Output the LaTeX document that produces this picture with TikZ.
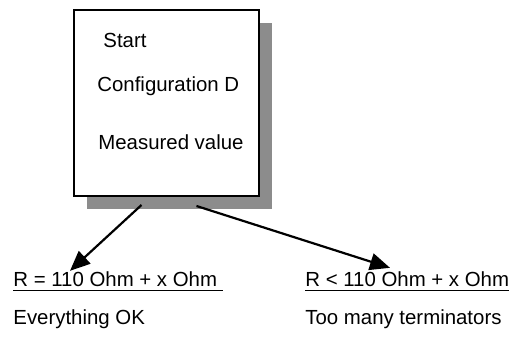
\documentclass[tikz,border=0pt]{standalone}
\usepackage{fontspec}
\setmainfont{Liberation Sans}
\usepackage{xcolor}
\definecolor{shadowgray}{HTML}{8c8c8c}
\usetikzlibrary{arrows.meta, calc}
\newcommand{\ohmline}[1]{\setbox0\hbox{#1}\rlap{\rule[-2.2pt]{\wd0}{0.8pt}}\box0}

\begin{document}
\begin{tikzpicture}[x=0.5pt, y=-0.5pt,
  box/.style={rectangle, draw=black, line width=1pt, fill=white,
    minimum width=92.5pt, minimum height=93pt, inner sep=0pt},
  shadowbox/.style={rectangle, fill=shadowgray,
    minimum width=92.5pt, minimum height=93pt, inner sep=0pt},
  txt/.style={anchor=base west, inner sep=0pt, font=\fontsize{10.2}{12}\selectfont},
  arr/.style={-{Triangle[length=10pt, width=8.5pt]}, line width=1.1pt}
]
\useasboundingbox (0,0) rectangle (511,347);
\node[shadowbox] (shadow) at (179.5, 116) {};
\node[box] (box) at (166.5, 103) {};
\node[txt] (start) at (103, 48)  {Start};
\node[txt] (conf)  at (97, 92)   {Configuration D};
\node[txt] (meas)  at (98, 150)  {Measured value};

\node[txt] (okval)  at (13, 287)  {\ohmline{R = 110 Ohm + x Ohm\ }};
\node[txt] (lowval) at (305, 287) {\ohmline{R < 110 Ohm + x Ohm}};
\node[txt] (ok)     at (13, 325)  {Everything OK};
\node[txt] (many)   at (305, 325) {Too many terminators};

\draw[arr] ($(box.south)+(-25,8)$) -- ($(okval.north west)+(57,-1)$);
\draw[arr] ($(box.south)+(30,9)$) -- ($(lowval.north west)+(85,-4)$);
\end{tikzpicture}
\end{document}
